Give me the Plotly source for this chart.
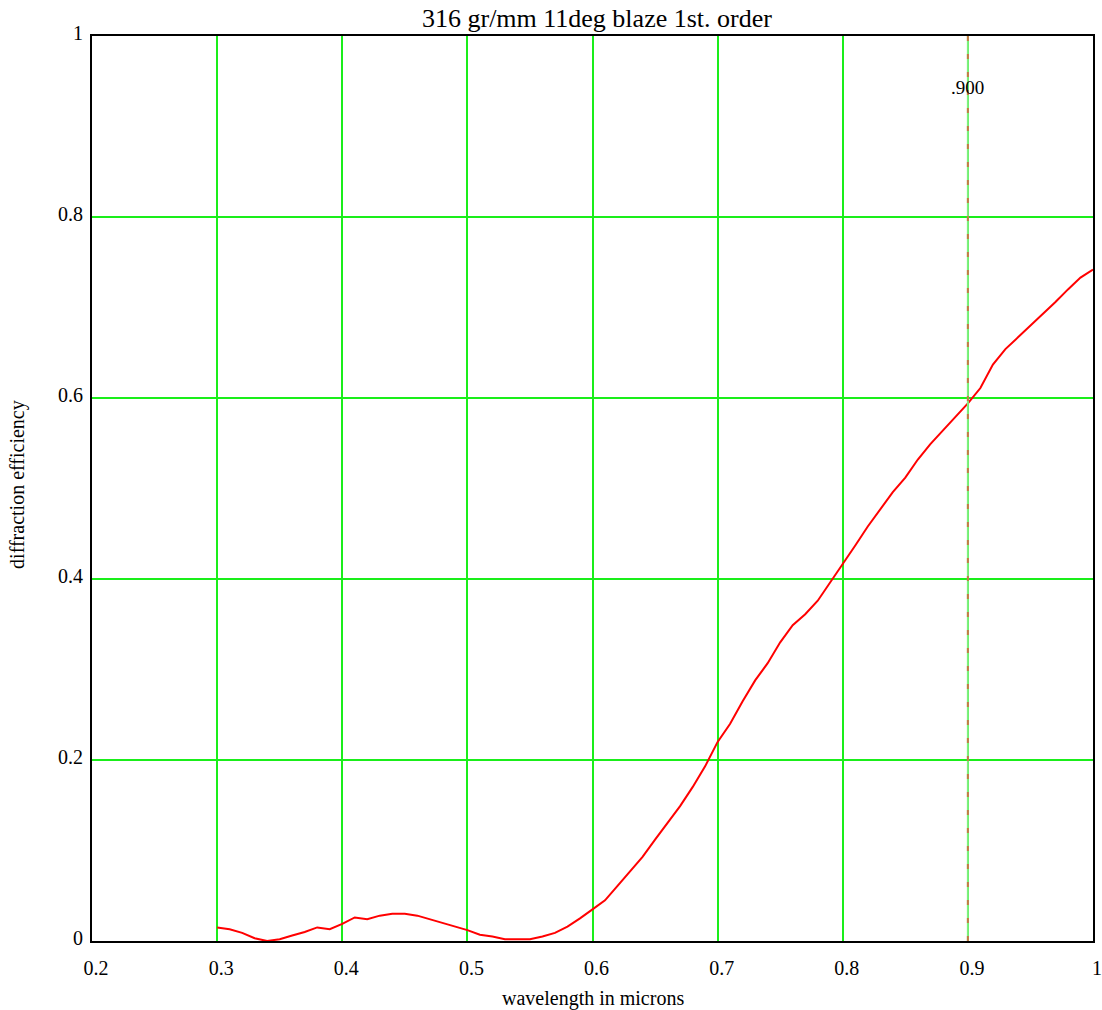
import plotly.graph_objects as go

# Wavelength grid (microns) and first-order diffraction efficiency
wavelength = [0.30, 0.31, 0.32, 0.33, 0.34, 0.35, 0.36, 0.37, 0.38, 0.39,
              0.40, 0.41, 0.42, 0.43, 0.44, 0.45, 0.46, 0.47, 0.48, 0.49,
              0.50, 0.51, 0.52, 0.53, 0.54, 0.55, 0.56, 0.57, 0.58, 0.59,
              0.60, 0.61, 0.62, 0.63, 0.64, 0.65, 0.66, 0.67, 0.68, 0.69,
              0.70, 0.71, 0.72, 0.73, 0.74, 0.75, 0.76, 0.77, 0.78, 0.79,
              0.80, 0.81, 0.82, 0.83, 0.84, 0.85, 0.86, 0.87, 0.88, 0.89,
              0.90, 0.91, 0.92, 0.93, 0.94, 0.95, 0.96, 0.97, 0.98, 0.99,
              1.00]
efficiency = [0.015, 0.013, 0.009, 0.003, 0.000, 0.002, 0.006, 0.010, 0.015, 0.013,
              0.019, 0.026, 0.024, 0.028, 0.030, 0.030, 0.028, 0.024, 0.020, 0.016,
              0.012, 0.007, 0.005, 0.002, 0.002, 0.002, 0.005, 0.009, 0.016, 0.025,
              0.035, 0.045, 0.061, 0.077, 0.093, 0.112, 0.130, 0.149, 0.170, 0.193,
              0.220, 0.240, 0.265, 0.288, 0.307, 0.330, 0.349, 0.361, 0.376, 0.396,
              0.417, 0.437, 0.458, 0.477, 0.496, 0.512, 0.532, 0.549, 0.564, 0.580,
              0.594, 0.611, 0.637, 0.654, 0.667, 0.679, 0.692, 0.706, 0.720, 0.733,
              0.742]

x_ticks = [0.2, 0.3, 0.4, 0.5, 0.6, 0.7, 0.8, 0.9, 1.0]
x_tick_labels = ["0.2", "0.3", "0.4", "0.5", "0.6", "0.7", "0.8", "0.9", "1"]
y_ticks = [0, 0.2, 0.4, 0.6, 0.8, 1.0]
y_tick_labels = ["0", "0.2", "0.4", "0.6", "0.8", "1"]

marker_wavelength = 0.9
marker_label = ".900"

FONT = "Liberation Serif, Times New Roman, serif"
GRID = "#1aee1a"

fig = go.Figure()
fig.add_trace(go.Scatter(
    x=wavelength, y=efficiency, mode="lines",
    line=dict(color="#ff0000", width=2),
    showlegend=False, hoverinfo="x+y",
))

# Vertical marker at 0.900 micron: light green line with dashed overlay
fig.add_shape(type="line", xref="x", yref="paper",
              x0=marker_wavelength, x1=marker_wavelength, y0=0, y1=1,
              line=dict(color="#7ef07e", width=2), layer="above")
fig.add_shape(type="line", xref="x", yref="paper",
              x0=marker_wavelength, x1=marker_wavelength, y0=0, y1=1,
              line=dict(color="#c47a44", width=2, dash="5px,13px"), layer="above")
fig.add_annotation(x=marker_wavelength, y=0.943, xref="x", yref="y",
                   text=marker_label, showarrow=False,
                   font=dict(family=FONT, size=19, color="#000000"),
                   xanchor="center", yanchor="middle")

# Axis titles
fig.add_annotation(x=0.5, y=-0.063, xref="paper", yref="paper",
                   text="wavelength in microns", showarrow=False,
                   font=dict(family=FONT, size=20, color="#000000"),
                   xanchor="center", yanchor="middle")
fig.add_annotation(x=-0.074, y=0.505, xref="paper", yref="paper",
                   text="diffraction efficiency", showarrow=False, textangle=-90,
                   font=dict(family=FONT, size=20, color="#000000"),
                   xanchor="center", yanchor="middle")

fig.update_layout(
    width=1102, height=1010,
    margin=dict(l=92, r=9, t=36, b=69, autoexpand=False),
    paper_bgcolor="white", plot_bgcolor="white",
    font=dict(family=FONT, color="#000000"),
    title=dict(text="316 gr/mm 11deg blaze 1st. order",
               x=0.5417, xanchor="center", y=0.982, yanchor="middle",
               font=dict(family=FONT, size=26, color="#000000")),
)
fig.update_xaxes(
    range=[0.2, 1.0], tickvals=x_ticks, ticktext=x_tick_labels,
    showgrid=True, gridcolor=GRID, gridwidth=1.5,
    showline=True, linecolor="#000000", linewidth=2, mirror=True,
    ticks="", zeroline=False, automargin=False,
    tickfont=dict(family=FONT, size=20),
    ticklabelstandoff=8, ticklabelshift=4,
)
fig.update_yaxes(
    range=[0, 1.0], tickvals=y_ticks, ticktext=y_tick_labels,
    showgrid=True, gridcolor=GRID, gridwidth=1.5,
    showline=True, linecolor="#000000", linewidth=2, mirror=True,
    ticks="", zeroline=False, automargin=False,
    tickfont=dict(family=FONT, size=20),
    ticklabelstandoff=3, ticklabelshift=-3,
)

fig.write_html("out.html")
